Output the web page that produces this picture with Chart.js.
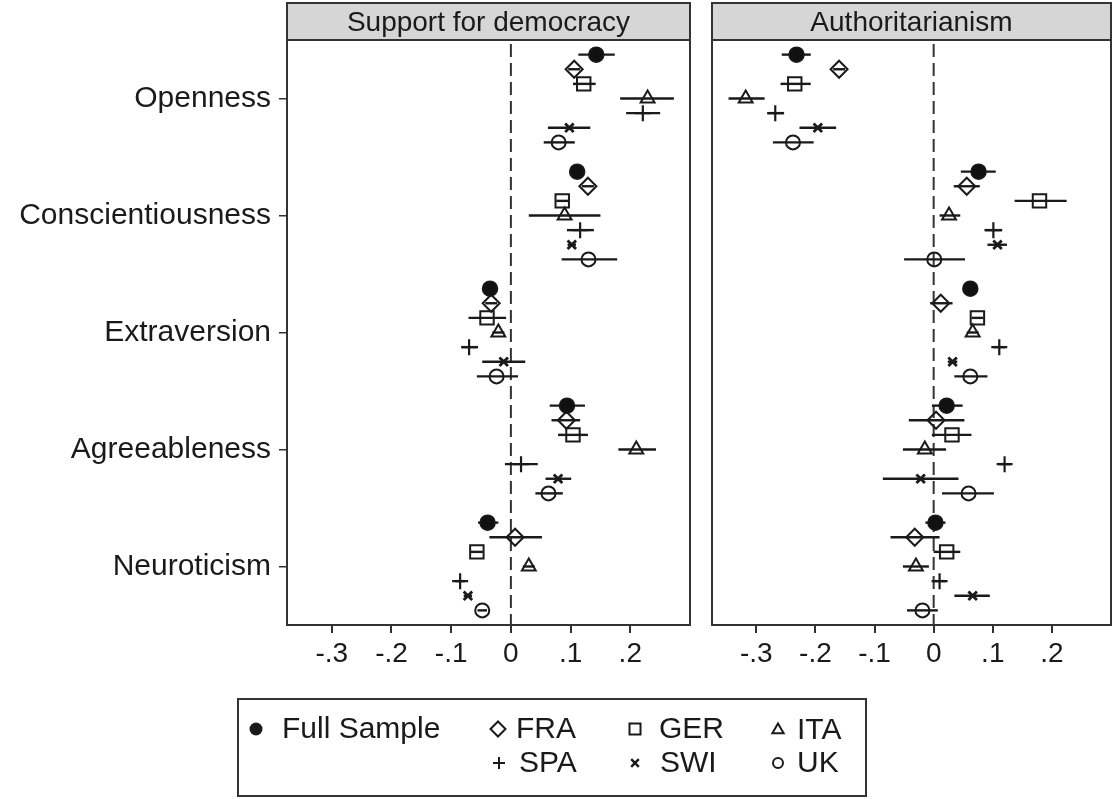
<!DOCTYPE html>
<html>
<head>
<meta charset="utf-8">
<script src="https://cdn.jsdelivr.net/npm/chart.js@4.4.0/dist/chart.umd.min.js"></script>
<style>
  body { margin: 0; background: #fff; overflow: hidden; }
  #wrap { position: relative; width: 1113px; height: 799px; }
  canvas { position: absolute; top: 0; }
  #left { left: 0; }
  #right { left: 700px; }
</style>
</head>
<body>
<div id="wrap">
  <canvas id="left" width="1113" height="799"></canvas>
  <canvas id="right" width="413" height="799"></canvas>
</div>
<script>
// Categories and groups
const traits = ['Openness', 'Conscientiousness', 'Extraversion', 'Agreeableness', 'Neuroticism'];
const groups = ['Full Sample', 'FRA', 'GER', 'ITA', 'SPA', 'SWI', 'UK'];
const xTicks = [-0.3, -0.2, -0.1, 0, 0.1, 0.2];
const xTickLabels = ['-.3', '-.2', '-.1', '0', '.1', '.2'];

// Support for democracy: estimates and 95% CI bounds (rows = groups, cols = traits)
const demEst = [
    [0.143, 0.111, -0.035, 0.094, -0.039],
    [0.106, 0.129, -0.033, 0.093, 0.007],
    [0.122, 0.086, -0.040, 0.104, -0.057],
    [0.229, 0.090, -0.021, 0.210, 0.030],
    [0.221, 0.116, -0.070, 0.017, -0.085],
    [0.098, 0.102, -0.012, 0.079, -0.072],
    [0.080, 0.130, -0.024, 0.063, -0.048]
];
const demLo = [
    [0.113, 0.100, -0.045, 0.065, -0.055],
    [0.096, 0.119, -0.043, 0.068, -0.036],
    [0.104, 0.076, -0.071, 0.079, -0.067],
    [0.183, 0.030, -0.031, 0.180, 0.020],
    [0.193, 0.094, -0.082, -0.010, -0.093],
    [0.062, 0.095, -0.048, 0.058, -0.079],
    [0.055, 0.085, -0.057, 0.041, -0.056]
];
const demHi = [
    [0.174, 0.122, -0.025, 0.124, -0.021],
    [0.116, 0.139, -0.023, 0.116, 0.052],
    [0.142, 0.096, -0.008, 0.129, -0.047],
    [0.273, 0.150, -0.011, 0.243, 0.040],
    [0.250, 0.139, -0.055, 0.045, -0.077],
    [0.133, 0.109, 0.024, 0.101, -0.065],
    [0.107, 0.178, 0.012, 0.087, -0.040]
];

// Authoritarianism
const autEst = [
    [-0.232, 0.076, 0.062, 0.022, 0.003],
    [-0.160, 0.056, 0.012, 0.004, -0.032],
    [-0.235, 0.179, 0.074, 0.031, 0.022],
    [-0.318, 0.026, 0.066, -0.015, -0.030],
    [-0.268, 0.101, 0.111, 0.120, 0.010],
    [-0.196, 0.108, 0.032, -0.022, 0.066],
    [-0.238, 0.001, 0.062, 0.059, -0.019]
];
const autLo = [
    [-0.257, 0.046, 0.052, -0.003, -0.014],
    [-0.170, 0.034, -0.006, -0.042, -0.073],
    [-0.259, 0.137, 0.064, -0.003, 0.000],
    [-0.347, 0.010, 0.056, -0.052, -0.052],
    [-0.281, 0.086, 0.101, 0.110, 0.000],
    [-0.227, 0.091, 0.024, -0.086, 0.035],
    [-0.272, -0.050, 0.035, 0.014, -0.045]
];
const autHi = [
    [-0.208, 0.105, 0.072, 0.049, 0.020],
    [-0.150, 0.078, 0.032, 0.052, 0.010],
    [-0.208, 0.225, 0.084, 0.064, 0.045],
    [-0.286, 0.045, 0.076, 0.021, -0.008],
    [-0.253, 0.116, 0.121, 0.130, 0.020],
    [-0.165, 0.124, 0.040, 0.042, 0.095],
    [-0.203, 0.053, 0.091, 0.102, 0.007]
];

// Marker look for each group
const markerStyles = [
    { pointStyle: 'circle', radius: 7.5, fill: '#111', width: 1.5 },
    { pointStyle: 'rectRot', radius: 8.5, fill: 'rgba(0,0,0,0)', width: 2 },
    { pointStyle: 'rect', radius: 9.5, fill: 'rgba(0,0,0,0)', width: 2 },
    { pointStyle: 'triangle', radius: 8, fill: 'rgba(0,0,0,0)', width: 2 },
    { pointStyle: 'cross', radius: 8, fill: 'rgba(0,0,0,0)', width: 2.2 },
    { pointStyle: 'crossRot', radius: 6, fill: 'rgba(0,0,0,0)', width: 2.8 },
    { pointStyle: 'circle', radius: 7, fill: 'rgba(0,0,0,0)', width: 2 }
];

const FONT = "'Liberation Sans', Arial, Helvetica, sans-serif";
const INK = '#1a1a1a';
Chart.defaults.font.family = FONT;
Chart.defaults.color = INK;

// row position inside a trait block
function rowY(traitIdx, groupIdx) {
    return traitIdx + 1 + (groupIdx - 3) / 8;
}

function buildDatasets(est, lo, hi) {
    return groups.map((g, gi) => ({
        label: g,
        data: est[gi].map((v, ti) => ({ x: v, y: rowY(ti, gi) })),
        errLo: lo[gi],
        errHi: hi[gi],
        pointStyle: markerStyles[gi].pointStyle,
        pointRadius: markerStyles[gi].radius,
        pointBackgroundColor: markerStyles[gi].fill,
        pointBorderColor: INK,
        pointBorderWidth: markerStyles[gi].width,
        showLine: false
    }));
}

// Dashed zero line, error bars, frame and grey header strip
const panelPlugin = {
    id: 'panel',
    beforeDatasetsDraw(chart) {
        const { ctx, chartArea, scales } = chart;
        const x0 = scales.x.getPixelForValue(0);
        ctx.save();
        ctx.strokeStyle = '#333';
        ctx.lineWidth = 2;
        ctx.setLineDash([13, 6]);
        ctx.beginPath();
        ctx.moveTo(x0, chartArea.top + 4);
        ctx.lineTo(x0, chartArea.bottom);
        ctx.stroke();
        ctx.setLineDash([]);

        ctx.strokeStyle = INK;
        ctx.lineWidth = 2.4;
        chart.data.datasets.forEach((ds, gi) => {
            ds.data.forEach((p, ti) => {
                const y = scales.y.getPixelForValue(p.y);
                ctx.beginPath();
                ctx.moveTo(scales.x.getPixelForValue(ds.errLo[ti]), y);
                ctx.lineTo(scales.x.getPixelForValue(ds.errHi[ti]), y);
                ctx.stroke();
            });
        });
        ctx.restore();
    },
    afterDraw(chart, args, opts) {
        const { ctx, chartArea } = chart;
        ctx.save();
        ctx.strokeStyle = '#333';
        ctx.lineWidth = 2;
        ctx.strokeRect(chartArea.left, chartArea.top, chartArea.right - chartArea.left, chartArea.bottom - chartArea.top);
        ctx.fillStyle = '#d6d6d6';
        ctx.fillRect(chartArea.left, 3, chartArea.right - chartArea.left, chartArea.top - 3);
        ctx.strokeRect(chartArea.left, 3, chartArea.right - chartArea.left, chartArea.top - 3);
        ctx.fillStyle = INK;
        ctx.font = '28px ' + FONT;
        ctx.textAlign = 'center';
        ctx.textBaseline = 'middle';
        ctx.fillText(opts.title, (chartArea.left + chartArea.right) / 2, 23);
        ctx.restore();
    }
};

// simple marker drawer for the legend
function drawMarker(ctx, style, x, y, r, lw) {
    ctx.save();
    ctx.lineWidth = lw;
    ctx.strokeStyle = INK;
    ctx.fillStyle = INK;
    ctx.beginPath();
    if (style === 'dot') {
        ctx.arc(x, y, r, 0, Math.PI * 2);
        ctx.fill();
    } else if (style === 'diamond') {
        ctx.moveTo(x - r, y); ctx.lineTo(x, y - r); ctx.lineTo(x + r, y); ctx.lineTo(x, y + r); ctx.closePath();
        ctx.stroke();
    } else if (style === 'square') {
        ctx.rect(x - r, y - r, 2 * r, 2 * r);
        ctx.stroke();
    } else if (style === 'triangle') {
        ctx.moveTo(x, y - r); ctx.lineTo(x + r * 0.87, y + r * 0.5); ctx.lineTo(x - r * 0.87, y + r * 0.5); ctx.closePath();
        ctx.stroke();
    } else if (style === 'plus') {
        ctx.moveTo(x - r, y); ctx.lineTo(x + r, y); ctx.moveTo(x, y - r); ctx.lineTo(x, y + r);
        ctx.stroke();
    } else if (style === 'x') {
        ctx.moveTo(x - r, y - r); ctx.lineTo(x + r, y + r); ctx.moveTo(x + r, y - r); ctx.lineTo(x - r, y + r);
        ctx.stroke();
    } else {
        ctx.arc(x, y, r, 0, Math.PI * 2);
        ctx.stroke();
    }
    ctx.restore();
}

const legendPlugin = {
    id: 'groupLegend',
    afterDraw(chart) {
        const ctx = chart.ctx;
        ctx.save();
        ctx.strokeStyle = '#333';
        ctx.lineWidth = 2;
        ctx.strokeRect(238, 699, 628, 97);
        const items = [
            { m: 'dot', r: 6.5, lw: 1, mx: 256, tx: 282, y: 729 },
            { m: 'diamond', r: 7.5, lw: 2, mx: 498, tx: 516, y: 729 },
            { m: 'square', r: 5.5, lw: 2, mx: 635, tx: 659, y: 729 },
            { m: 'triangle', r: 6.5, lw: 2, mx: 778, tx: 797, y: 730 },
            { m: 'plus', r: 6, lw: 2, mx: 499, tx: 519, y: 763 },
            { m: 'x', r: 3.8, lw: 2.4, mx: 635, tx: 660, y: 763 },
            { m: 'ring', r: 5, lw: 2, mx: 778, tx: 797, y: 763 }
        ];
        ctx.font = '30px ' + FONT;
        ctx.textAlign = 'left';
        ctx.textBaseline = 'middle';
        ctx.fillStyle = INK;
        items.forEach((it, i) => {
            drawMarker(ctx, it.m, it.mx, it.y, it.r, it.lw);
            ctx.fillText(groups[i], it.tx, it.y + 1);
        });
        ctx.restore();
    }
};

function xScale() {
    return {
        type: 'linear',
        min: -0.375,
        max: 0.30,
        afterBuildTicks: s => { s.ticks = xTicks.map(v => ({ value: v })); },
        afterFit: s => { s.height = 174; },
        border: { display: false },
        grid: { drawOnChartArea: false, drawTicks: true, tickLength: 8, color: '#333', lineWidth: 2 },
        ticks: {
            padding: 4,
            color: INK,
            font: { size: 28 },
            maxRotation: 0,
            autoSkip: false,
            callback: (v, i) => xTickLabels[i]
        }
    };
}

// Left panel (also carries the legend)
new Chart(document.getElementById('left'), {
    type: 'scatter',
    data: { datasets: buildDatasets(demEst, demLo, demHi) },
    options: {
        responsive: false,
        animation: false,
        devicePixelRatio: 1,
        layout: { autoPadding: false, padding: { top: 40, right: 423, bottom: 0, left: 0 } },
        scales: {
            x: xScale(),
            y: {
                type: 'linear',
                min: 0.5,
                max: 5.5,
                reverse: true,
                afterBuildTicks: s => { s.ticks = traits.map((t, i) => ({ value: i + 1 })); },
                afterFit: s => { s.width = 287; },
                border: { display: false },
                grid: { drawOnChartArea: false, drawTicks: true, tickLength: 8, color: '#333', lineWidth: 1.5 },
                ticks: { padding: 8, color: INK, font: { size: 30 }, autoSkip: false, callback: (v, i) => traits[i] }
            }
        },
        plugins: {
            legend: { display: false },
            tooltip: { enabled: false },
            panel: { title: 'Support for democracy' }
        }
    },
    plugins: [panelPlugin, legendPlugin]
});

// Right panel
new Chart(document.getElementById('right'), {
    type: 'scatter',
    data: { datasets: buildDatasets(autEst, autLo, autHi) },
    options: {
        responsive: false,
        animation: false,
        devicePixelRatio: 1,
        layout: { autoPadding: false, padding: { top: 40, right: 2, bottom: 0, left: 12 } },
        scales: {
            x: xScale(),
            y: { type: 'linear', min: 0.5, max: 5.5, reverse: true, display: false }
        },
        plugins: {
            legend: { display: false },
            tooltip: { enabled: false },
            panel: { title: 'Authoritarianism' }
        }
    },
    plugins: [panelPlugin]
});
</script>
</body>
</html>
